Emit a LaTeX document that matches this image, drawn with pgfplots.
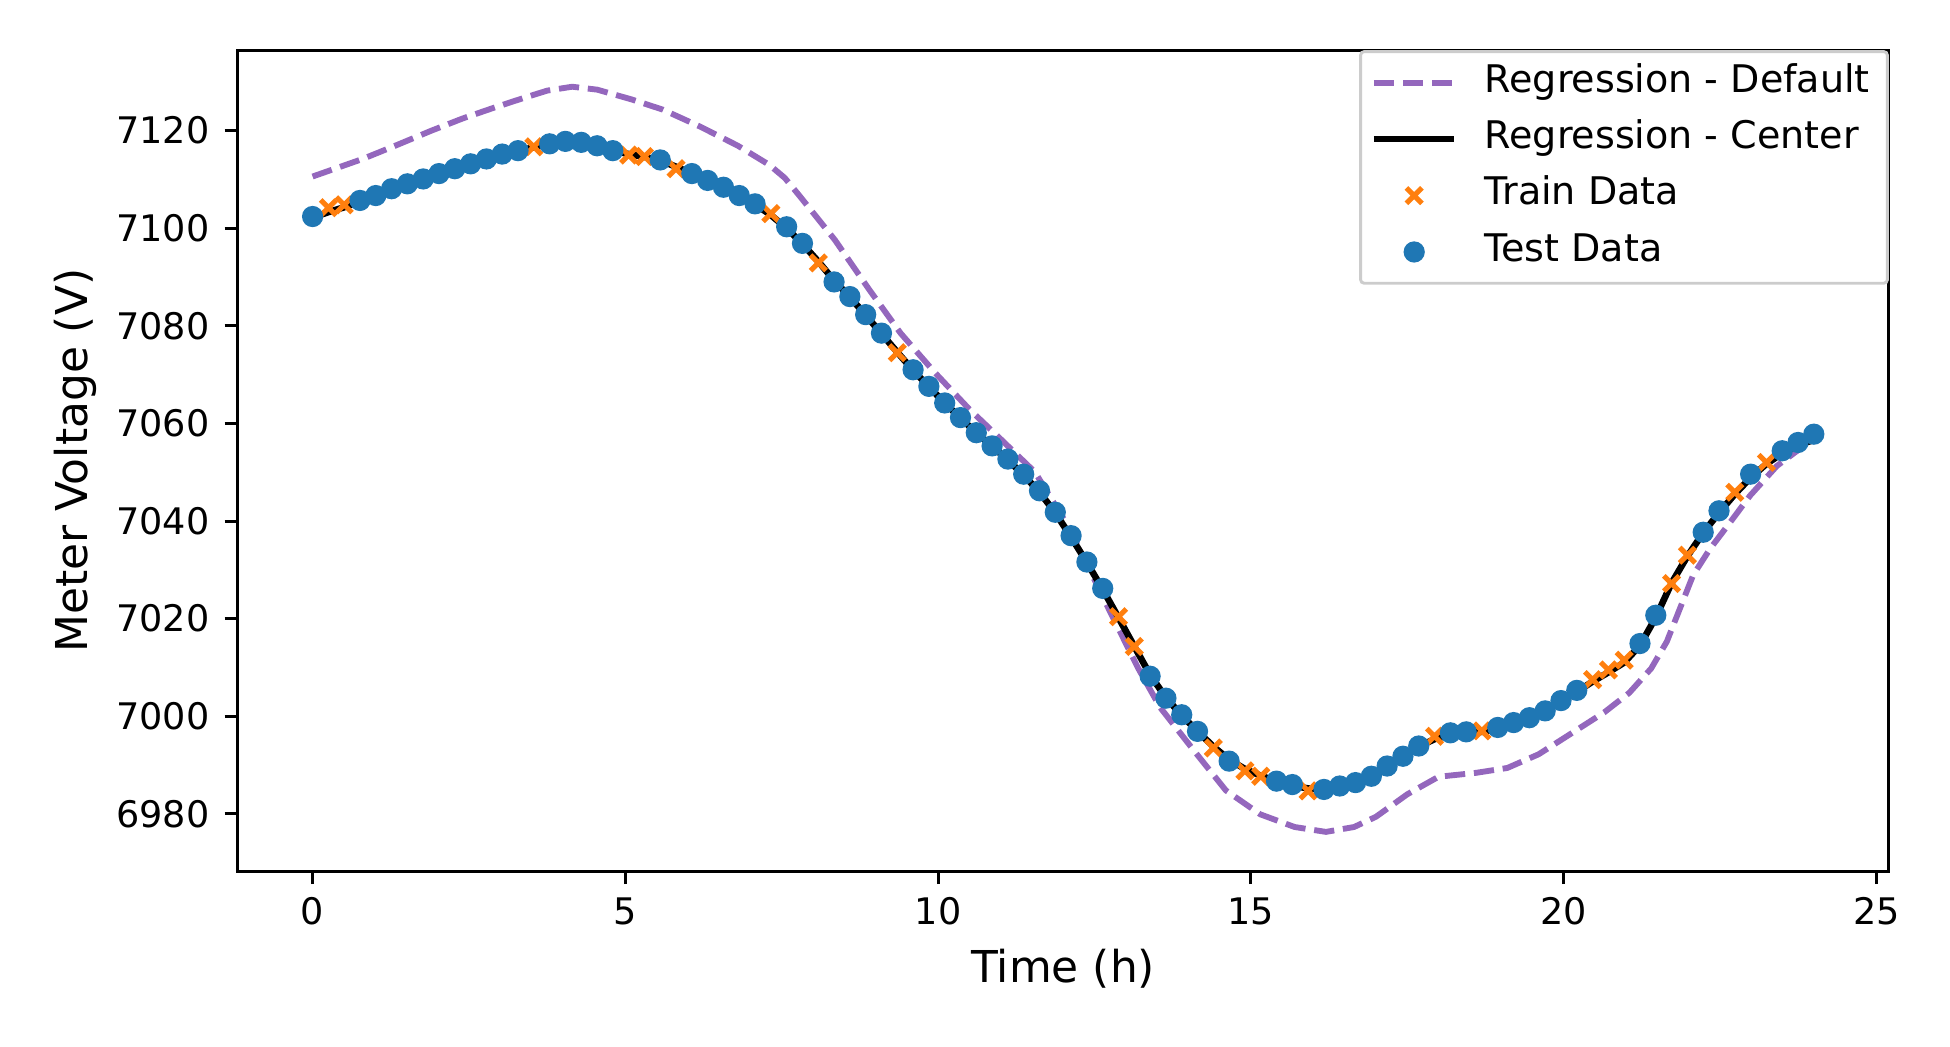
\documentclass[border=0pt]{standalone}
\usepackage{fontspec}
\setmainfont{DejaVu Sans}
\usepackage{pgfplots}
\usepackage{pgfplotstable}
\pgfplotsset{compat=1.18}
\definecolor{mplblue}{HTML}{1F77B4}
\definecolor{mplorange}{HTML}{FF7F0E}
\definecolor{mplpurple}{HTML}{9467BD}
\definecolor{legframe}{rgb}{0.8,0.8,0.8}

\pgfplotstableread{
t V
0.2526 7104.2
0.5053 7104.8
3.5368 7116.7
5.0526 7115.0
5.3053 7114.7
5.8105 7112.2
7.3263 7103.0
8.0842 7092.9
9.3474 7074.5
12.8842 7020.4
13.1368 7014.3
14.4000 6993.5
14.9053 6988.8
15.1579 6987.7
15.9158 6984.7
17.9368 6995.9
18.6947 6997.0
20.4632 7007.5
20.7158 7009.5
20.9684 7011.5
21.7263 7027.2
21.9789 7033.0
22.7368 7045.9
23.2421 7052.0
}\traindata

\pgfplotstableread{
t V
0.0000 7102.4
0.7579 7105.7
1.0105 7106.7
1.2632 7108.1
1.5158 7109.1
1.7684 7110.1
2.0211 7111.2
2.2737 7112.2
2.5263 7113.2
2.7789 7114.2
3.0316 7115.2
3.2842 7115.9
3.7895 7117.3
4.0421 7117.8
4.2947 7117.6
4.5474 7116.9
4.8000 7115.9
5.5579 7114.0
6.0632 7111.2
6.3158 7109.8
6.5684 7108.4
6.8211 7106.7
7.0737 7105.0
7.5789 7100.3
7.8316 7096.9
8.3368 7089.0
8.5895 7086.0
8.8421 7082.3
9.0947 7078.5
9.6000 7071.0
9.8526 7067.6
10.1053 7064.2
10.3579 7061.2
10.6105 7058.1
10.8632 7055.4
11.1158 7052.7
11.3684 7049.6
11.6211 7046.2
11.8737 7041.8
12.1263 7037.0
12.3789 7031.6
12.6316 7026.2
13.3895 7008.2
13.6421 7003.7
13.8947 7000.3
14.1474 6996.9
14.6526 6990.8
15.4105 6986.7
15.6632 6986.0
16.1684 6985.0
16.4211 6985.7
16.6737 6986.4
16.9263 6987.7
17.1789 6989.8
17.4316 6991.8
17.6842 6993.9
18.1895 6996.6
18.4421 6996.8
18.9474 6997.7
19.2000 6998.7
19.4526 6999.7
19.7053 7001.1
19.9579 7003.2
20.2105 7005.3
21.2211 7014.9
21.4737 7020.7
22.2316 7037.7
22.4842 7042.1
22.9895 7049.6
23.4947 7054.4
23.7474 7056.1
24.0000 7057.8
}\testdata

\pgfplotstableread{
t V
0.0000 7102.2
0.2526 7103.3
0.5053 7104.3
0.7579 7105.5
1.0105 7106.6
1.2632 7107.9
1.5158 7109.0
1.7684 7110.1
2.0211 7111.2
2.2737 7112.2
2.5263 7113.2
2.7789 7114.1
3.0316 7115.0
3.2842 7115.8
3.5368 7116.6
3.7895 7117.2
4.0421 7117.5
4.2947 7117.4
4.5474 7116.8
4.8000 7115.9
5.0526 7115.2
5.3053 7114.6
5.5579 7113.9
5.8105 7112.6
6.0632 7111.2
6.3158 7109.8
6.5684 7108.3
6.8211 7106.7
7.0737 7104.9
7.3263 7102.7
7.5789 7100.0
7.8316 7096.8
8.0842 7093.2
8.3368 7089.3
8.5895 7085.9
8.8421 7082.2
9.0947 7078.4
9.3474 7074.6
9.6000 7070.9
9.8526 7067.5
10.1053 7064.2
10.3579 7061.1
10.6105 7058.1
10.8632 7055.3
11.1158 7052.5
11.3684 7049.4
11.6211 7045.9
11.8737 7041.7
12.1263 7036.7
12.3789 7031.5
12.6316 7026.0
12.8842 7020.2
13.1368 7014.3
13.3895 7008.5
13.6421 7003.8
13.8947 7000.2
14.1474 6996.9
14.4000 6993.8
14.6526 6991.1
14.9053 6989.2
15.1579 6987.8
15.4105 6986.7
15.6632 6985.8
15.9158 6985.2
16.1684 6985.0
16.4211 6985.3
16.6737 6986.1
16.9263 6987.5
17.1789 6989.5
17.4316 6991.7
17.6842 6993.8
17.9368 6995.3
18.1895 6996.2
18.4421 6996.5
18.6947 6996.8
18.9474 6997.4
19.2000 6998.4
19.4526 6999.6
19.7053 7001.1
19.9579 7002.9
20.2105 7005.0
20.4632 7007.1
20.7158 7009.0
20.9684 7011.0
21.2211 7014.5
21.4737 7020.3
21.7263 7027.3
21.9789 7032.8
22.2316 7037.6
22.4842 7041.7
22.7368 7045.5
22.9895 7048.9
23.2421 7051.7
23.4947 7053.9
23.7474 7055.6
24.0000 7056.6
}\centerdata

\pgfplotstableread{
t V
0.00 7110.6
0.80 7114.2
1.30 7116.8
1.90 7120.0
2.40 7122.5
2.90 7124.7
3.40 7126.8
3.75 7128.2
4.15 7129.0
4.55 7128.4
5.10 7126.4
5.60 7124.3
6.20 7120.8
6.80 7116.9
7.30 7113.0
7.55 7110.3
7.80 7106.4
8.35 7097.6
8.90 7087.4
9.40 7078.5
9.95 7070.4
10.50 7062.9
11.00 7056.8
11.55 7050.0
12.10 7038.5
12.75 7021.4
13.20 7009.8
13.55 7001.8
14.10 6992.8
14.60 6984.8
15.15 6979.9
15.70 6977.3
16.20 6976.3
16.65 6977.3
17.00 6979.4
17.50 6984.0
18.00 6987.6
18.60 6988.4
19.10 6989.4
19.60 6992.2
20.15 6996.7
20.65 7000.8
21.05 7004.8
21.40 7009.8
21.65 7015.3
21.86 7022.1
22.07 7028.9
22.34 7034.3
22.66 7039.7
22.98 7045.2
23.41 7051.3
23.84 7055.4
24.00 7056.8
}\defaultdata

\begin{document}
\begin{tikzpicture}
\begin{axis}[
  scale only axis,
  width=451.2pt, height=224.4pt,
  xmin=-1.2, xmax=25.2, ymin=6968.2, ymax=7136.5,
  xtick={0,5,10,15,20,25}, xticklabels={0,5,10,15,20,25},
  ytick={6980,7000,7020,7040,7060,7080,7100,7120},
  yticklabels={6980,7000,7020,7040,7060,7080,7100,7120},
  tick pos=left, tick align=outside, major tick length=3.5pt,
  tick style={black, line width=0.8pt},
  axis line style={line width=0.8pt},
  ticklabel style={font=\fontsize{10}{12}\selectfont},
  xticklabel style={anchor=base, inner sep=0pt, yshift=-11.1pt},
  yticklabel style={anchor=east, inner sep=0pt, xshift=-4pt},
  xlabel={Time (h)}, ylabel={Meter Voltage (V)},
  every axis x label/.style={at={(axis description cs:0.5,-0.1358)}, anchor=base, font=\fontsize{12}{14}\selectfont},
  every axis y label/.style={at={(axis description cs:-0.0907,0.5)}, rotate=90, anchor=base, font=\fontsize{12}{14}\selectfont},
  legend image code/.code={\draw[mark repeat=2,mark phase=2,#1] plot coordinates {(0pt,0pt) (11pt,0pt) (22pt,0pt)};},
  legend cell align=left,
  legend style={at={(1,1)}, anchor=north east, draw=legframe, line width=0.8pt, fill=white,
    rounded corners=1pt, font=\fontsize{10.4}{12.5}\selectfont,
    inner xsep=2.8pt, inner ysep=1.5pt, row sep=1.3pt,
    nodes={inner sep=2pt, text height=7.6pt, text depth=2.5pt},
    /tikz/every odd column/.append style={column sep=5.4pt}},
]
\addlegendimage{mplpurple, line width=1.6pt, dash pattern=on 5.55pt off 2.4pt, sharp corners}
\addlegendentry{Regression - Default}
\addlegendimage{black, line width=1.7pt, sharp corners}
\addlegendentry{Regression - Center}
\addlegendimage{only marks, mark=x, mark size=3pt, mplorange, line width=1.4pt, sharp corners}
\addlegendentry{Train Data}
\addlegendimage{only marks, mark=*, mark size=2.7pt, mplblue, sharp corners, mark options={line width=0.4pt}}
\addlegendentry{Test Data}

\addplot[forget plot, only marks, mark=x, mark size=3pt, mplorange, line width=1.4pt] table[x=t,y=V] {\traindata};
\addplot[forget plot, only marks, mark=*, mark size=2.7pt, mplblue, mark options={line width=0.4pt}] table[x=t,y=V] {\testdata};
\addplot[forget plot, mplpurple, line width=1.6pt, dash pattern=on 5.55pt off 2.4pt, line join=round] table[x=t,y=V] {\defaultdata};
\addplot[forget plot, black, line width=1.8pt, line join=round, line cap=round] table[x=t,y=V] {\centerdata};
\end{axis}
\pgfresetboundingbox
\path[use as bounding box] (-64.9pt,-47.8pt) rectangle (467.9pt,238.1pt);
\end{tikzpicture}
\end{document}
